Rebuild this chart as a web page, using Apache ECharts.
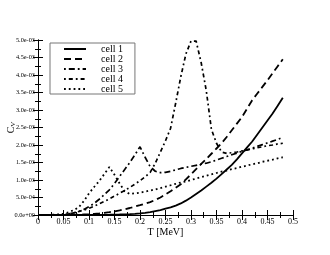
<!DOCTYPE html>
<html><head><meta charset="utf-8">
<script src="https://cdn.jsdelivr.net/npm/echarts@6/dist/echarts.min.js"></script>
<style>html,body{margin:0;padding:0;background:#fff}#c{width:330px;height:255px}</style>
</head><body><div id="c"></div>
<script>
var T = [0,0.01,0.02,0.03,0.04,0.05,0.06,0.07,0.08,0.09,0.10,0.11,0.12,0.13,0.14,0.15,0.16,0.17,0.18,0.19,0.20,0.21,0.22,0.23,0.24,0.25,0.26,0.27,0.28,0.29,0.30,0.31,0.32,0.33,0.34,0.35,0.36,0.37,0.38,0.39,0.40,0.41,0.42,0.43,0.44,0.45,0.46,0.47,0.48];
// values in units of 1e-3
var cell1 = [0,0,0,0,0,0,0,0,0,0,0,0.002,0.003,0.005,0.007,0.01,0.014,0.019,0.026,0.035,0.045,0.06,0.08,0.11,0.14,0.18,0.22,0.27,0.33,0.41,0.50,0.60,0.70,0.81,0.92,1.04,1.17,1.30,1.43,1.59,1.76,1.93,2.10,2.30,2.50,2.70,2.90,3.12,3.35];
var cell2 = [0,0,0,0,0,0.001,0.002,0.005,0.008,0.014,0.02,0.032,0.045,0.062,0.08,0.105,0.13,0.165,0.20,0.24,0.28,0.325,0.37,0.43,0.50,0.59,0.68,0.78,0.88,1.02,1.16,1.31,1.46,1.60,1.75,1.90,2.05,2.23,2.42,2.61,2.80,3.04,3.28,3.47,3.66,3.85,4.05,4.25,4.45];
var cell3 = [0,0,0,0,0,0.01,0.03,0.06,0.10,0.16,0.24,0.33,0.45,0.58,0.72,0.90,1.10,1.30,1.50,1.72,1.95,1.65,1.38,1.25,1.21,1.22,1.25,1.29,1.33,1.36,1.39,1.42,1.45,1.48,1.52,1.57,1.62,1.67,1.72,1.77,1.82,1.86,1.91,1.96,2.01,2.06,2.11,2.16,2.22];
var cell4 = [0,0,0,0,0,0.01,0.03,0.06,0.10,0.14,0.19,0.25,0.32,0.39,0.46,0.54,0.62,0.70,0.79,0.88,0.98,1.09,1.22,1.48,1.80,2.12,2.48,3.20,3.95,4.60,4.97,4.97,4.35,3.55,2.45,2.05,1.80,1.76,1.78,1.80,1.83,1.86,1.89,1.92,1.95,1.98,2.00,2.03,2.05];
var cell5 = [0,0,0.003,0.01,0.02,0.04,0.08,0.14,0.22,0.40,0.62,0.80,0.97,1.17,1.37,1.15,0.90,0.68,0.60,0.62,0.64,0.67,0.70,0.73,0.77,0.81,0.85,0.89,0.93,0.96,1.00,1.04,1.08,1.12,1.16,1.20,1.24,1.27,1.31,1.34,1.38,1.41,1.45,1.48,1.52,1.55,1.58,1.62,1.65];
var names = ['cell 1','cell 2','cell 3','cell 4','cell 5'];

function pairs(v){ return T.map(function(t,i){ return [t, v[i]*1e-3]; }); }
function fmtY(v){
  if (Math.abs(v) < 1e-12) return '0.0e+00';
  var e = Math.floor(Math.log10(Math.abs(v)) + 1e-9);
  var m = v / Math.pow(10, e);
  var s = e < 0 ? '-' : '+';
  var a = Math.abs(e);
  return m.toFixed(1) + 'e' + s + (a < 10 ? '0' + a : a);
}
var font = 'Liberation Serif';
var styles = [
  {type:'solid', width:1.8},
  {type:[7,4], width:1.8},
  {type:[1.8,3,6,3], width:1.7},
  {type:[1.8,3,4,3], width:1.7},
  {type:[1.8,3], width:1.8}
];
var data = [cell1, cell2, cell3, cell4, cell5];
var series = data.map(function(d,i){
  return {name:names[i], type:'line', data:pairs(d), symbol:'none', smooth:false,
    lineStyle:{color:'#000', width:styles[i].width, type:styles[i].type, cap:'butt'},
    itemStyle:{color:'#000'}, animation:false, z: 3};
});
var chart = echarts.init(document.getElementById('c'), null, {renderer:'canvas'});
var tickCommon = {inside:true, length:5, lineStyle:{color:'#000', width:1}};
var minorCommon = {show:true, splitNumber:2, length:3, lineStyle:{color:'#000', width:1}};
chart.setOption({
  animation:false,
  backgroundColor:'#fff',
  grid:{left:38, right:37, top:40, bottom:40, containLabel:false, outerBoundsMode:'none'},
  legend:{
    orient:'vertical', left:50, top:43, data:names,
    itemWidth:22, itemHeight:8, itemGap:0,
    itemStyle:{opacity:0},
    borderColor:'#777', borderWidth:1, padding:[1,12,0,13],
    textStyle:{fontFamily:font, fontSize:10, lineHeight:10, color:'#000', padding:[0,0,0,10]}
  },
  xAxis:[{
    type:'value', min:0, max:0.5, interval:0.05,
    name:'T [MeV]', nameLocation:'middle', nameGap:12, nameMoveOverlap:false,
    nameTextStyle:{fontFamily:font, fontSize:10, color:'#000'},
    axisLine:{lineStyle:{color:'#000', width:1}},
    axisTick:tickCommon, minorTick:minorCommon,
    axisLabel:{fontFamily:font, fontSize:8, color:'#000', margin:3,
      formatter:function(v){ return String(Math.round(v*100)/100); }},
    splitLine:{show:false}
  },{
    type:'value', min:0, max:0.5, interval:0.05, position:'top',
    axisLine:{lineStyle:{color:'#000', width:1}},
    axisTick:tickCommon, minorTick:minorCommon,
    axisLabel:{show:false}, splitLine:{show:false}
  }],
  yAxis:[{
    type:'value', min:0, max:0.005, interval:0.0005,
    name:'{c|C}{v|V}', nameLocation:'middle', nameGap:21, nameRotate:90, nameMoveOverlap:false,
    nameTextStyle:{fontFamily:font, color:'#000', rich:{c:{fontFamily:font, fontSize:10, color:'#000'}, v:{fontFamily:font, fontSize:7, color:'#000', verticalAlign:'bottom', padding:[4,0,0,0]}}},
    axisLine:{lineStyle:{color:'#000', width:1}},
    axisTick:tickCommon, minorTick:minorCommon,
    axisLabel:{fontFamily:font, fontSize:6.3, color:'#000', margin:3, formatter:fmtY},
    splitLine:{show:false}
  },{
    type:'value', min:0, max:0.005, interval:0.0005, position:'right',
    axisLine:{lineStyle:{color:'#000', width:1}},
    axisTick:tickCommon, minorTick:minorCommon,
    axisLabel:{show:false}, splitLine:{show:false}
  }],
  series: series
});
</script></body></html>
